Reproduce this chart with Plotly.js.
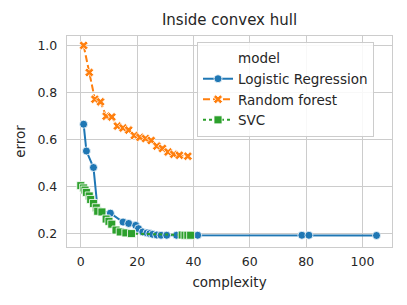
<!DOCTYPE html>
<html>
<head>
<meta charset="utf-8">
<script src="https://cdn.plot.ly/plotly-3.0.1.min.js"></script>
<style>html,body{margin:0;padding:0;background:#fff;}#chart{width:407px;height:305px;}</style>
</head>
<body>
<div id="chart"></div>
<script>
var lrX = [1, 2, 4.5, 6, 10.5, 15, 17, 19.5, 20.5, 22, 23.5, 24.5, 25.5, 27, 28.5, 30.5, 34, 41.5, 78.5, 81, 105];
var lrY = [0.665, 0.551, 0.481, 0.30, 0.287, 0.249, 0.243, 0.235, 0.221, 0.207, 0.203, 0.200, 0.197, 0.194, 0.193, 0.193, 0.193, 0.193, 0.193, 0.193, 0.192];
var rfX = [1, 3, 5, 7, 9, 11, 13, 15, 17, 19, 21, 23, 25, 27, 29, 31, 33, 35, 38];
var rfY = [1.0, 0.885, 0.771, 0.760, 0.699, 0.696, 0.657, 0.649, 0.640, 0.617, 0.609, 0.604, 0.596, 0.572, 0.562, 0.547, 0.537, 0.533, 0.529];
var svcX = [0, 1, 1.5, 2, 3, 3.5, 4.5, 5.5, 6, 7.5, 9, 10, 11, 12.5, 14, 16, 18, 36, 37, 38, 39];
var svcY = [0.404, 0.394, 0.385, 0.375, 0.36, 0.345, 0.328, 0.31, 0.295, 0.292, 0.262, 0.252, 0.24, 0.215, 0.207, 0.203, 0.200, 0.194, 0.193, 0.193, 0.193];
var names = ["Logistic Regression", "Random forest", "SVC"];
var legendTitle = "model";

var font = "DejaVu Sans, sans-serif";
var traces = [
  {x: [null], y: [null], name: legendTitle, mode: "lines", line: {color: "rgba(0,0,0,0)", width: 0}, hoverinfo: "skip"},
  {x: lrX, y: lrY, name: names[0], mode: "lines+markers",
   line: {color: "#1f77b4", width: 2, dash: "solid"},
   marker: {symbol: "circle", size: 8, color: "#1f77b4", line: {color: "#fff", width: 0.8}}},
  {x: rfX, y: rfY, name: names[1], mode: "lines+markers",
   line: {color: "#ff7f0e", width: 2, dash: "7px,3px"},
   marker: {symbol: "x", size: 8, color: "#ff7f0e", line: {color: "#fff", width: 0.8}}},
  {x: svcX, y: svcY, name: names[2], mode: "lines+markers",
   line: {color: "#2ca02c", width: 2, dash: "dot"},
   marker: {symbol: "square", size: 8, color: "#2ca02c", line: {color: "#fff", width: 0.8}}}
];

var layout = {
  width: 407, height: 305,
  margin: {l: 67, r: 15, t: 36, b: 58},
  paper_bgcolor: "#fff", plot_bgcolor: "#fff",
  font: {family: font, color: "#262626", size: 12.5},
  title: {text: "Inside convex hull", font: {size: 15, color: "#262626", family: font}, xref: "paper", x: 0.5, xanchor: "center", yref: "container", y: 0.935, yanchor: "middle"},
  xaxis: {range: [-4.9, 110.5], tickvals: [0, 20, 40, 60, 80, 100], showgrid: true, gridcolor: "#cccccc", gridwidth: 1,
          zeroline: false, showline: true, mirror: true, linecolor: "#cccccc", linewidth: 1.2, ticks: "outside", ticklen: 3, tickcolor: "rgba(0,0,0,0)",
          tickfont: {size: 12.5, color: "#262626"},
          title: {text: "complexity", font: {size: 13.5, color: "#262626"}, standoff: 9}},
  yaxis: {range: [0.143, 1.04], tickvals: [0.2, 0.4, 0.6, 0.8, 1.0], ticktext: ["0.2", "0.4", "0.6", "0.8", "1.0"],
          showgrid: true, gridcolor: "#cccccc", gridwidth: 1,
          zeroline: false, showline: true, mirror: true, linecolor: "#cccccc", linewidth: 1.2, ticks: "outside", ticklen: 6, tickcolor: "rgba(0,0,0,0)",
          tickfont: {size: 12.5, color: "#262626"},
          title: {text: "error", font: {size: 13.5, color: "#262626"}, standoff: 8}},
  legend: {x: 0.4, y: 0.972, xanchor: "left", yanchor: "top", bgcolor: "rgba(255,255,255,0.85)",
           bordercolor: "#cccccc", borderwidth: 1, font: {size: 13.5, color: "#262626"}, tracegroupgap: 0, itemwidth: 30},
  showlegend: true
};
Plotly.newPlot("chart", traces, layout, {displayModeBar: false, staticPlot: true});
</script>
</body>
</html>
